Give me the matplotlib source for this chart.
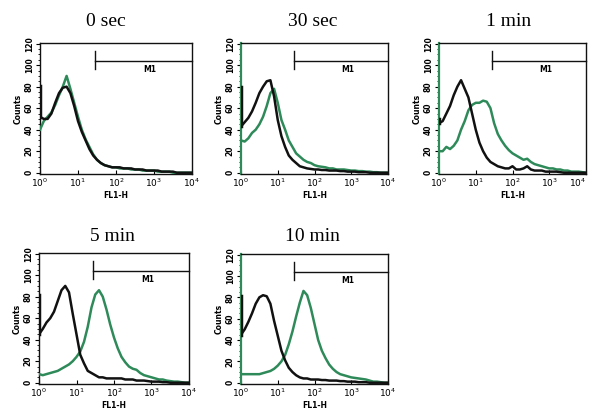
import numpy as np
import matplotlib
matplotlib.use("Agg")
import matplotlib.pyplot as plt
from matplotlib.ticker import LogLocator, FixedLocator, NullFormatter

# ---------------- data ----------------
titles = ["0 sec", "30 sec", "1 min", "5 min", "10 min"]
log_x = [round(0.1 * i, 1) for i in range(41)]  # log10(FL1-H) grid, 10^0 .. 10^4

black_0s = [52, 50, 50, 55, 65, 74, 79, 80, 74, 62, 48, 38, 30, 22, 16, 12, 9, 7, 6, 5, 5,
            5, 4, 4, 4, 3, 3, 3, 2, 2, 2, 2, 1, 1, 1, 1, 0, 0, 0, 0, 0]
green_0s = [40, 48, 52, 56, 63, 72, 80, 90, 78, 65, 52, 40, 31, 24, 17, 12, 9, 7, 6, 5, 5,
            4, 4, 4, 3, 3, 3, 2, 2, 2, 2, 1, 1, 1, 1, 0, 0, 0, 0, 0, 0]

black_30s = [43, 47, 51, 57, 65, 74, 80, 85, 86, 71, 49, 34, 24, 16, 12, 9, 6, 5, 4, 3.5, 3,
             3, 2.5, 2.5, 2, 2, 2, 1.5, 1.5, 1, 1, 1, 0.5, 0.5, 0.5, 0, 0, 0, 0, 0, 0]
green_30s = [30, 29, 32, 37, 40, 45, 52, 62, 74, 78, 65, 49, 40, 30, 24, 18, 15, 12, 10, 9, 7,
             6, 5.5, 5, 4, 4, 3, 3, 3, 2.5, 2, 2, 1.5, 1.5, 1, 1, 0.5, 0.5, 0, 0, 0]

black_1m = [46, 48, 55, 62, 72, 80, 86, 78, 70, 55, 40, 28, 20, 14, 10, 8, 6, 5, 4, 4, 6,
            3, 3, 4, 6, 3, 2, 2, 2, 1, 1, 1, 1, 0.5, 0, 0, 0, 0, 0, 0, 0]
green_1m = [20, 20, 24, 22, 25, 30, 40, 48, 58, 63, 65, 65, 67, 66, 60, 46, 36, 30, 25, 21, 18,
            16, 14, 12, 13, 10, 8, 7, 6, 5, 4, 4, 3, 3, 2, 2, 1, 1, 1, 0.5, 0]

black_5m = [45, 50, 56, 60, 66, 76, 86, 90, 84, 64, 45, 26, 18, 11, 9, 7, 5, 5, 4, 4, 4,
            4, 4, 3, 3, 3, 2, 2, 2, 1.5, 1, 1, 1, 0.5, 0.5, 0, 0, 0, 0, 0, 0]
green_5m = [8, 7, 8, 9, 10, 11, 13, 15, 17, 20, 24, 29, 38, 52, 70, 82, 86, 80, 68, 54, 42,
            32, 24, 19, 15, 13, 12, 9, 7, 6, 5, 4, 3, 3, 2, 1.5, 1, 1, 0.5, 0, 0]

black_10m = [45, 50, 57, 65, 74, 80, 82, 81, 74, 58, 44, 30, 21, 14, 10, 7, 5, 4, 4, 3, 3,
             3, 2.5, 2.5, 2, 2, 2, 1.5, 1.5, 1, 1, 1, 0.5, 0.5, 0.5, 0, 0, 0, 0, 0, 0]
green_10m = [8, 8, 8, 8, 8, 8, 9, 10, 11, 13, 16, 20, 26, 36, 48, 62, 75, 86, 82, 70, 55,
             40, 30, 23, 17, 13, 10, 8, 7, 6, 5, 4.5, 4, 3.5, 3, 2, 1, 1, 0.5, 0, 0]

black_series = [black_0s, black_30s, black_1m, black_5m, black_10m]
green_series = [green_0s, green_30s, green_1m, green_5m, green_10m]
first_bin_black = [81, 80, 50, 82, 81]   # pile-up counts at channel 1 (left edge)

y_ticks = [0, 20, 40, 60, 80, 100, 120]
x_ticks = [1, 10, 100, 1000, 10000]
x_ticklabels = [r"$10^0$", r"$10^1$", r"$10^2$", r"$10^3$", r"$10^4$"]
marker_name = "M1"
marker_start = 28
marker_end = 10000
marker_level = 104

# ---------------- layout ----------------
W, H = 591, 415
fig = plt.figure(figsize=(W / 100, H / 100), dpi=100)
fig.patch.set_facecolor("white")

# pixel boxes: left, right, top, bottom
boxes = [(40, 192, 43, 174), (241, 388, 43, 174), (439, 586, 43, 174),
         (39, 189, 253, 384), (241, 388, 254, 384)]
title_pos = [(106, 22), (313, 22), (509, 22), (112, 236), (312, 236)]
green_left_spine = [False, True, True, False, True]

BLACK = "#111111"
GREEN = "#2f8a5a"

for i in range(5):
    l, r, t, b = boxes[i]
    ax = fig.add_axes([l / W, 1 - b / H, (r - l) / W, (b - t) / H])
    xs = [10 ** v for v in log_x]
    ax.plot(xs, green_series[i], color=GREEN, lw=1.8, zorder=3)
    ax.plot(xs, black_series[i], color=BLACK, lw=1.8, zorder=4)
    ax.plot([1, 1], [black_series[i][0], first_bin_black[i]], color=BLACK, lw=2.5, zorder=5)

    ax.set_xscale("log")
    ax.set_xlim(1, 10000)
    ax.set_ylim(-1.2, 120.6)

    ax.set_xticks(x_ticks)
    ax.set_xticklabels(x_ticklabels, fontsize=6.5, fontweight="bold")
    if r > 580:
        ax.get_xticklabels()[-1].set_ha("right")
    ax.xaxis.set_minor_locator(LogLocator(base=10, subs=np.arange(2, 10)))
    ax.xaxis.set_minor_formatter(NullFormatter())
    ax.tick_params(axis="x", which="major", direction="in", length=3, width=0.8, pad=2)
    ax.tick_params(axis="x", which="minor", direction="in", length=1.5, width=0.6)

    ax.set_yticks(y_ticks)
    ax.set_yticklabels([str(v) for v in y_ticks], fontsize=5.5, fontweight="bold",
                       rotation=90, va="center")
    ax.yaxis.set_minor_locator(FixedLocator(np.arange(0, 121, 5)))
    ax.tick_params(axis="y", which="major", direction="out", length=3, width=0.8, pad=1.5)
    ax.tick_params(axis="y", which="minor", direction="out", length=1.5, width=0.6)

    for s in ax.spines.values():
        s.set_linewidth(1.0)
        s.set_color(BLACK)
    if green_left_spine[i]:
        ax.spines["left"].set_color(GREEN)
        ax.spines["left"].set_linewidth(1.6)

    ax.set_ylabel("Counts", fontsize=5.5, fontweight="bold", labelpad=1.5)
    ax.set_xlabel("FL1-H", fontsize=5.5, fontweight="bold", labelpad=1)

    # M1 marker
    ax.plot([marker_start, marker_end], [marker_level, marker_level], color=BLACK, lw=1.0,
            zorder=6, clip_on=False)
    ax.plot([marker_start, marker_start], [marker_level - 8, marker_level + 9], color=BLACK,
            lw=1.0, zorder=6)
    ax.text(10 ** 2.9, marker_level - 8.5, marker_name, fontsize=5.5, fontweight="bold",
            ha="center", va="center")

    tx, ty = title_pos[i]
    fig.text(tx / W, 1 - ty / H, titles[i], fontsize=14, family="Liberation Serif",
             ha="center", va="center")

fig.savefig("out.png", dpi=100, facecolor="white")
